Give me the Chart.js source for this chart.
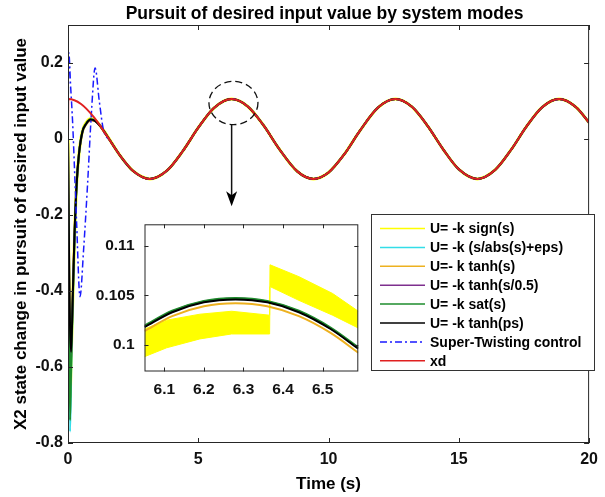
<!DOCTYPE html>
<html>
<head>
<meta charset="utf-8">
<script src="https://cdn.jsdelivr.net/npm/chart.js@4.4.0/dist/chart.umd.min.js"></script>
<style>
  html, body { margin: 0; padding: 0; background: #fff; }
  #wrap { position: relative; width: 605px; height: 497px; }
  #main { position: absolute; left: 0; top: 0; }
  #zoom { position: absolute; left: 80px; top: 205px; }
</style>
</head>
<body>
<div id="wrap">
  <canvas id="main" width="605" height="497"></canvas>
  <canvas id="zoom" width="290" height="200"></canvas>
</div>
<script>
const FONT = "'Liberation Sans', Arial, sans-serif";

const titleText = 'Pursuit of desired input value by system modes';
const xTitle = 'Time (s)';
const yTitle = 'X2 state change in pursuit of desired input value';
const seriesNames = ['U= -k sign(s)', 'U= -k (s/abs(s)+eps)', 'U=- k tanh(s)', 'U= -k tanh(s/0.5)',
  'U= -k sat(s)', 'U= -k tanh(ps)', 'Super-Twisting control', 'xd'];
const seriesColors = ['#ffff00', '#33dde8', '#edb120', '#7e2f8e', '#1e8c2c', '#000000', '#1a1aff', '#e02020'];

const xTicks = [0, 5, 10, 15, 20];
const yTicks = [-0.8, -0.6, -0.4, -0.2, 0, 0.2];

// desired value xd
const tRefHead = [0, 0.01, 0.5, 1.0, 1.5];
const xdHead = [0, 0.105, 0.0921, 0.0567, 0.0074];
const tTail = [2.0, 2.5, 3.14, 3.8, 4.4, 5.0, 5.6, 6.28, 6.9, 7.5, 8.1, 8.8, 9.42, 10.0, 10.6, 11.2, 11.9,
  12.57, 13.2, 13.8, 14.4, 15.0, 15.71, 16.4, 17.0, 17.6, 18.2, 18.85, 19.5, 20.0];
const xdTail = [-0.0437, -0.0841, -0.105, -0.0831, -0.0323, 0.0298, 0.0814, 0.105, 0.0856, 0.0364, -0.0256,
  -0.0852, -0.105, -0.0881, -0.0406, 0.0213, 0.0826, 0.105, 0.0846, 0.0347, -0.0273, -0.0798, -0.105,
  -0.0808, -0.0289, 0.0332, 0.0836, 0.105, 0.0836, 0.0429];

// start of the six sliding mode laws (after that they sit on xd)
const tMode = [0, 0.04, 0.08, 0.12, 0.18, 0.25, 0.33, 0.42, 0.55, 0.7, 0.87, 1.05, 1.25, 1.5];
const signHead   = [0, -0.42, -0.68, -0.58, -0.43, -0.26, -0.12, -0.04, 0.02, 0.043, 0.053, 0.049, 0.034, 0.009];
const epsHead    = [0, -0.50, -0.77, -0.62, -0.44, -0.26, -0.125, -0.042, 0.017, 0.040, 0.051, 0.047, 0.033, 0.008];
const tanhHead   = [0, -0.40, -0.66, -0.57, -0.42, -0.25, -0.12, -0.042, 0.016, 0.038, 0.049, 0.046, 0.032, 0.007];
const tanh05Head = [0, -0.38, -0.62, -0.57, -0.42, -0.25, -0.12, -0.04, 0.018, 0.040, 0.050, 0.047, 0.033, 0.008];
const satHead    = [0, -0.45, -0.74, -0.60, -0.43, -0.26, -0.12, -0.04, 0.019, 0.041, 0.052, 0.048, 0.033, 0.008];
const tanhpHead  = [0, -0.30, -0.50, -0.56, -0.42, -0.25, -0.12, -0.04, 0.018, 0.040, 0.051, 0.047, 0.033, 0.008];

// super twisting
const tST = [0, 0.03, 0.1, 0.18, 0.25, 0.33, 0.46, 0.6, 0.75, 0.9, 1.04, 1.2, 1.36, 1.6];
const stHead = [0, 0.227, 0.14, 0.04, -0.08, -0.22, -0.415, -0.29, -0.12, 0.07, 0.187, 0.10, 0.024, -0.003];

// zoom window around t = 2*pi
const zxTicks = [6.1, 6.2, 6.3, 6.4, 6.5];
const zyTicks = [0.1, 0.105, 0.11];
const tZoom = [6.05, 6.12, 6.2, 6.28, 6.36, 6.44, 6.52, 6.59];
const zEps    = [0.10185, 0.10335, 0.10435, 0.10465, 0.10435, 0.10335, 0.10165, 0.09965];
const zTanh   = [0.1014, 0.1029, 0.1039, 0.1042, 0.1039, 0.1029, 0.1012, 0.0992];
const zTanh05 = [0.10188, 0.10338, 0.10438, 0.10468, 0.10438, 0.10338, 0.10168, 0.09968];
const zSat    = [0.10195, 0.10345, 0.10445, 0.10475, 0.10445, 0.10345, 0.10175, 0.09975];
const zTanhp  = [0.1018, 0.1033, 0.1043, 0.1046, 0.1043, 0.1033, 0.1016, 0.0996];
// chattering band of sign(s): upper / lower edge
const tChat = [6.05, 6.106, 6.19, 6.27, 6.366, 6.367, 6.44, 6.525, 6.59];
const chatTop = [0.1016, 0.1025, 0.1031, 0.1034, 0.1030, 0.1081, 0.1069, 0.1052, 0.1034];
const chatLow = [0.0988, 0.0997, 0.1006, 0.1011, 0.1011, 0.1059, 0.1045, 0.1030, 0.1017];

// ellipse + arrow (data units)
const markCenter = [6.35, 0.0947];
const markRadius = [0.94, 0.057];
const arrowT = 6.28;
const arrowY = [0.0376, -0.177];

const STDASH = [7, 3, 2, 3];

function pts(ts, vs) {
  return ts.map((t, i) => ({ x: t, y: vs[i] }));
}

function boxAndTicks(chart, len) {
  const { ctx, chartArea: a, scales: { x, y } } = chart;
  ctx.save();
  ctx.strokeStyle = '#262626';
  ctx.lineWidth = 1;
  ctx.beginPath();
  x.ticks.forEach(tk => {
    const px = Math.round(x.getPixelForValue(tk.value)) + 0.5;
    ctx.moveTo(px, a.bottom); ctx.lineTo(px, a.bottom - len);
    ctx.moveTo(px, a.top); ctx.lineTo(px, a.top + len);
  });
  y.ticks.forEach(tk => {
    const py = Math.round(y.getPixelForValue(tk.value)) + 0.5;
    ctx.moveTo(a.left, py); ctx.lineTo(a.left + len, py);
    ctx.moveTo(a.right, py); ctx.lineTo(a.right - len, py);
  });
  ctx.stroke();
  ctx.strokeRect(a.left + 0.5, a.top + 0.5, a.right - a.left - 1, a.bottom - a.top - 1);
  ctx.restore();
}

const tickFont = { family: FONT, size: 16, weight: 'bold' };

// main chart
const heads = [signHead, epsHead, tanhHead, tanh05Head, satHead, tanhpHead];
const mainSets = heads.map((h, i) => ({
  label: seriesNames[i],
  data: pts(tMode.concat(tTail), h.concat(xdTail)),
  borderColor: seriesColors[i],
  borderWidth: i === 0 ? 3 : 2,
  order: 7 - i
}));
mainSets.push({
  label: seriesNames[6],
  data: pts(tST.concat(tTail), stHead.concat(xdTail)),
  borderColor: seriesColors[6], borderWidth: 1.5, borderDash: STDASH, order: 1
});
mainSets.push({
  label: seriesNames[7],
  data: pts(tRefHead.concat(tTail), xdHead.concat(xdTail)),
  borderColor: seriesColors[7], borderWidth: 2, order: 0
});

const mainDecor = {
  id: 'mainDecor',
  afterDraw(chart) {
    const { ctx, chartArea: a, scales: { x, y } } = chart;
    boxAndTicks(chart, 5);
    ctx.save();
    // title
    ctx.fillStyle = '#000';
    ctx.font = 'bold 17.5px ' + FONT;
    ctx.textAlign = 'center';
    ctx.textBaseline = 'alphabetic';
    ctx.fillText(titleText, (a.left + a.right) / 2 - 4, 18.5);

    // dashed ellipse and arrow
    const cx = x.getPixelForValue(markCenter[0]), cy = y.getPixelForValue(markCenter[1]);
    const rx = x.getPixelForValue(markCenter[0] + markRadius[0]) - cx;
    const ry = cy - y.getPixelForValue(markCenter[1] + markRadius[1]);
    ctx.strokeStyle = '#111';
    ctx.lineWidth = 1.3;
    ctx.setLineDash([7, 4]);
    ctx.beginPath();
    ctx.ellipse(cx, cy, rx, ry, 0, 0, Math.PI * 2);
    ctx.stroke();
    ctx.setLineDash([]);
    const ax = x.getPixelForValue(arrowT);
    const y0 = y.getPixelForValue(arrowY[0]), y1 = y.getPixelForValue(arrowY[1]);
    ctx.lineWidth = 1.5;
    ctx.beginPath();
    ctx.moveTo(ax, y0); ctx.lineTo(ax, y1 - 10);
    ctx.stroke();
    ctx.fillStyle = '#000';
    ctx.beginPath();
    ctx.moveTo(ax, y1);
    ctx.lineTo(ax - 5.5, y1 - 15);
    ctx.lineTo(ax, y1 - 11);
    ctx.lineTo(ax + 5.5, y1 - 15);
    ctx.closePath();
    ctx.fill();

    // legend box
    const L = 371, T = 214, R = 595, B = 371;
    ctx.fillStyle = '#fff';
    ctx.fillRect(L, T, R - L, B - T);
    ctx.strokeStyle = '#333';
    ctx.lineWidth = 1;
    ctx.strokeRect(L + 0.5, T + 0.5, R - L - 1, B - T - 1);
    ctx.font = 'bold 14px ' + FONT;
    ctx.textAlign = 'left';
    ctx.textBaseline = 'middle';
    seriesNames.forEach((name, i) => {
      const ry2 = 228.5 + i * 18.9;
      ctx.strokeStyle = seriesColors[i];
      ctx.lineWidth = 1.5;
      ctx.setLineDash(i === 6 ? STDASH : []);
      ctx.beginPath();
      ctx.moveTo(380, ry2); ctx.lineTo(425, ry2);
      ctx.stroke();
      ctx.setLineDash([]);
      ctx.fillStyle = '#000';
      ctx.fillText(name, 430, ry2 + 1);
    });
    ctx.restore();
  }
};

new Chart(document.getElementById('main'), {
  type: 'line',
  data: { datasets: mainSets },
  options: {
    responsive: false,
    animation: false,
    layout: { padding: { left: 0, right: 7, top: 25, bottom: 0 } },
    elements: {
      point: { radius: 0 },
      line: { cubicInterpolationMode: 'monotone', fill: false }
    },
    plugins: { legend: { display: false }, tooltip: { enabled: false }, title: { display: false } },
    scales: {
      x: {
        type: 'linear', min: 0, max: 20,
        afterBuildTicks: s => { s.ticks = xTicks.map(v => ({ value: v })); },
        afterFit: s => { s.height = 54; },
        grid: { display: false, drawTicks: false },
        border: { display: false },
        ticks: { padding: 7, font: tickFont, color: '#111', maxRotation: 0, callback: v => String(v) },
        title: { display: true, text: xTitle, color: '#000',
          font: { family: FONT, size: 17, weight: 'bold' }, padding: { top: 0, bottom: 2 } }
      },
      y: {
        type: 'linear', min: -0.8, max: 0.3,
        afterBuildTicks: s => { s.ticks = yTicks.map(v => ({ value: v })); },
        afterFit: s => { s.width = 68; },
        grid: { display: false, drawTicks: false },
        border: { display: false },
        ticks: { padding: 5, font: tickFont, color: '#111', callback: v => String(v) },
        title: { display: true, text: yTitle, color: '#000',
          font: { family: FONT, size: 17, weight: 'bold' }, padding: { top: 10.8, bottom: 0 } }
      }
    }
  },
  plugins: [mainDecor]
});

// inset
const zoomSets = [
  { data: pts(tChat, chatTop), borderColor: seriesColors[0], backgroundColor: seriesColors[0],
    borderWidth: 1, tension: 0, cubicInterpolationMode: 'default', order: 10 },
  { data: pts(tChat, chatLow), borderColor: seriesColors[0], backgroundColor: seriesColors[0],
    borderWidth: 1, tension: 0, cubicInterpolationMode: 'default', fill: '-1', order: 9 },
  { data: pts(tZoom, zEps), borderColor: seriesColors[1], borderWidth: 2, order: 5 },
  { data: pts(tZoom, zTanh), borderColor: seriesColors[2], borderWidth: 2, order: 4 },
  { data: pts(tZoom, zTanh05), borderColor: seriesColors[3], borderWidth: 2, order: 3 },
  { data: pts(tZoom, zSat), borderColor: seriesColors[4], borderWidth: 2, order: 2 },
  { data: pts(tZoom, zTanhp), borderColor: seriesColors[5], borderWidth: 2, order: 1 }
];

const zoomDecor = {
  id: 'zoomDecor',
  beforeDatasetsDraw(chart) {
    const { ctx, chartArea: a } = chart;
    ctx.save();
    ctx.fillStyle = '#fff';
    ctx.fillRect(a.left, a.top, a.right - a.left, a.bottom - a.top);
    ctx.restore();
  },
  afterDraw(chart) {
    boxAndTicks(chart, 4);
  }
};

const zoomTickFont = { family: FONT, size: 15.5, weight: 'bold' };

new Chart(document.getElementById('zoom'), {
  type: 'line',
  data: { datasets: zoomSets },
  options: {
    responsive: false,
    animation: false,
    layout: { padding: { left: 0, right: 11.7, top: 8.3, bottom: 0 } },
    elements: {
      point: { radius: 0 },
      line: { cubicInterpolationMode: 'monotone', fill: false }
    },
    plugins: { legend: { display: false }, tooltip: { enabled: false }, title: { display: false } },
    scales: {
      x: {
        type: 'linear', min: 6.05, max: 6.59,
        afterBuildTicks: s => { s.ticks = zxTicks.map(v => ({ value: v })); },
        afterFit: s => { s.height = 33.5; },
        grid: { display: false, drawTicks: false },
        border: { display: false },
        ticks: { padding: 9, font: zoomTickFont, color: '#111', maxRotation: 0, callback: v => String(v) }
      },
      y: {
        type: 'linear', min: 0.0973, max: 0.1122,
        afterBuildTicks: s => { s.ticks = zyTicks.map(v => ({ value: v })); },
        afterFit: s => { s.width = 64.5; },
        grid: { display: false, drawTicks: false },
        border: { display: false },
        ticks: { padding: 10, font: zoomTickFont, color: '#111', callback: v => String(v) }
      }
    }
  },
  plugins: [zoomDecor]
});
</script>
</body>
</html>
